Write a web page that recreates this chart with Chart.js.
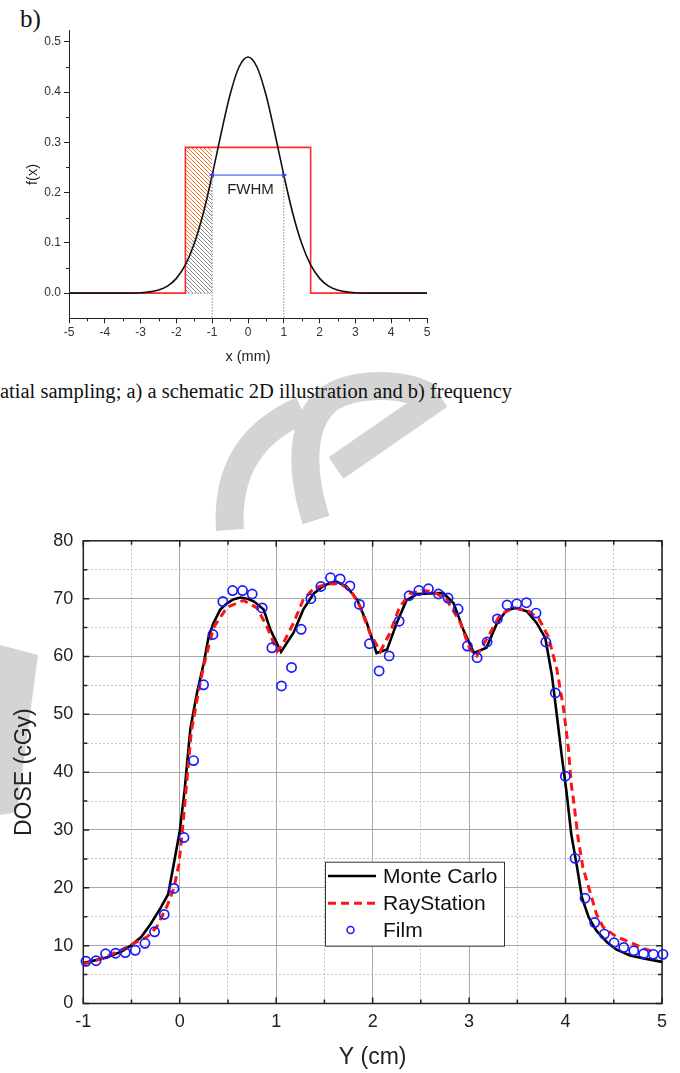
<!DOCTYPE html>
<html>
<head>
<meta charset="utf-8">
<script src="https://cdn.jsdelivr.net/npm/chart.js@4.4.1/dist/chart.umd.min.js"></script>
<style>
  html,body{margin:0;padding:0;background:#fff;}
  body{width:680px;height:1073px;position:relative;overflow:hidden;}
  .abs{position:absolute;}
</style>
</head>
<body>
<svg class="abs" style="left:0;top:0" width="680" height="1073">
  <g fill="none" stroke="#d4d4d4" stroke-width="28">
    <path d="M230 530 C 226 470 252 432 302 410"/>
    <path d="M316 520 C 300 470 300 420 330 398 C 360 380 408 384 430 398"/>
    <path d="M336 468 L 440 396" stroke-width="26"/>
  </g>
  <path d="M0 645 L 38 655 L 17 812 L 0 815 Z" fill="#d4d4d4"/>
  <text x="20" y="27" font-family="'Liberation Serif','DejaVu Serif',serif" font-size="25" fill="#111">b)</text>
  <text x="0" y="398" font-family="'Liberation Serif','DejaVu Serif',serif" font-size="20.5" fill="#111" textLength="512" lengthAdjust="spacingAndGlyphs">atial sampling; a) a schematic 2D illustration and b) frequency</text>
</svg>
<canvas id="c1" class="abs" style="left:0;top:0" width="460" height="370"></canvas>
<canvas id="c2" class="abs" style="left:0;top:520px" width="680" height="553"></canvas>
<script>
// ---------------- Chart b) data ----------------
const gaussX = [-5,-4,-3.5,-3,-2.75,-2.5,-2.25,-2,-1.75,-1.5,-1.25,-1,-0.75,-0.5,-0.25,0,0.25,0.5,0.75,1,1.25,1.5,1.75,2,2.25,2.5,2.75,3,3.5,4,5];
const gaussY = [0,0,0.0001,0.0009,0.0025,0.0062,0.0141,0.0294,0.0562,0.0987,0.159,0.2349,0.318,0.395,0.4498,0.4697,0.4498,0.395,0.318,0.2349,0.159,0.0987,0.0562,0.0294,0.0141,0.0062,0.0025,0.0009,0.0001,0,0];
const rectX = [-5,-1.75,-1.75,1.75,1.75,5];
const rectY = [0,0,0.29,0.29,0,0];
const hatchX = [-1.75,-1.5,-1.25,-1];
const hatchLow = [0.0562,0.0987,0.159,0.2349];
const hatchTop = [0.29,0.29,0.29,0.29];
const fwhmX = [-1,1];
const fwhmY = [0.2349,0.2349];
const baseX = [-1.75,-1];
const baseY = [0,0];
const xTicks1 = [-5,-4,-3,-2,-1,0,1,2,3,4,5];
const yTicks1 = [0,0.1,0.2,0.3,0.4,0.5];
const xMinor1 = [-4.5,-3.5,-2.5,-1.5,-0.5,0.5,1.5,2.5,3.5,4.5];
const yMinor1 = [0.05,0.15,0.25,0.35,0.45];

// ---------------- Dose profile data ----------------
const mcX = [-1,-0.87,-0.75,-0.6,-0.5,-0.4,-0.3,-0.2,-0.12,-0.05,0,0.05,0.11,0.18,0.25,0.3,0.35,0.42,0.49,0.56,0.63,0.7,0.77,0.87,0.94,1.05,1.18,1.28,1.39,1.49,1.56,1.63,1.73,1.84,1.94,2.04,2.15,2.25,2.35,2.46,2.6,2.73,2.84,2.94,3.05,3.18,3.29,3.39,3.48,3.6,3.7,3.79,3.86,3.91,3.96,4.01,4.06,4.12,4.17,4.24,4.32,4.43,4.53,4.67,4.81,5.0];
const mcY = [7.0,7.5,8.0,9.0,10.1,11.5,13.8,16.5,18.9,25.2,29.8,36.8,47.5,53.8,58.9,63.5,65.8,68.1,69.2,69.9,70.2,70.0,69.5,68.1,64.6,60.8,64.1,68.1,70.9,72.2,72.7,72.9,72.1,69.8,65.8,60.6,61.2,65.8,69.7,70.8,70.9,71.0,69.2,64.6,60.6,61.5,65.8,68.0,68.4,67.8,65.8,63.2,56.6,49.8,42.9,36.6,29.2,23.5,18.3,14.9,12.6,10.6,9.3,8.3,7.8,7.2];
const rsX = [-1,-0.8,-0.6,-0.5,-0.4,-0.34,-0.24,-0.13,-0.06,-0.01,0.02,0.06,0.12,0.19,0.25,0.35,0.49,0.66,0.8,0.9,1.01,1.08,1.18,1.28,1.39,1.52,1.66,1.77,1.87,1.97,2.08,2.18,2.28,2.39,2.53,2.63,2.77,2.91,3.01,3.08,3.22,3.32,3.46,3.6,3.72,3.82,3.91,3.98,4.03,4.06,4.08,4.13,4.18,4.25,4.32,4.39,4.53,4.67,4.81,4.93];
const rsY = [6.8,7.8,9.3,10.2,11.0,11.5,13.2,16.9,20.0,24.0,28.6,36.0,47.0,53.5,58.5,65.0,68.5,69.7,68.4,65.3,60.9,62.5,65.8,69.8,71.8,72.5,72.6,71.5,68.6,64.1,60.9,64.1,68.6,70.9,71.4,71.2,69.8,65.8,61.2,60.1,64.1,67.2,68.4,68.0,66.6,63.5,57.8,50.9,44.0,37.8,35.5,28.6,23.5,19.5,15.5,13.2,11.5,10.6,9.5,8.9];
const filmX = [-0.972,-0.868,-0.769,-0.665,-0.565,-0.461,-0.361,-0.261,-0.161,-0.06,0.044,0.143,0.247,0.344,0.447,0.548,0.651,0.751,0.855,0.955,1.055,1.159,1.259,1.359,1.463,1.563,1.663,1.764,1.863,1.967,2.067,2.171,2.275,2.378,2.479,2.578,2.682,2.782,2.886,2.982,3.083,3.187,3.293,3.394,3.494,3.594,3.694,3.795,3.894,3.998,4.098,4.202,4.302,4.402,4.503,4.603,4.707,4.81,4.91,5.01];
const filmY = [7.3,7.4,8.6,8.7,8.8,9.2,10.4,12.4,15.4,19.9,28.7,42.0,55.1,63.8,69.5,71.4,71.4,70.8,68.4,61.5,54.9,58.1,64.7,70.0,72.1,73.6,73.4,72.2,69.0,62.2,57.5,60.1,66.1,70.5,71.4,71.7,70.8,70.1,68.2,61.8,59.8,62.5,66.5,68.9,69.1,69.3,67.5,62.5,53.7,39.3,25.1,18.2,14.0,12.0,10.5,9.7,9.1,8.6,8.5,8.5];
const xTicks2 = [-1,0,1,2,3,4,5];
const yTicks2 = [0,10,20,30,40,50,60,70,80];
const xMinor2 = [-0.5,0.5,1.5,2.5,3.5,4.5];
const yMinor2 = [5,15,25,35,45,55,65,75];

const SANS = "'Liberation Sans', Arial, Helvetica, sans-serif";
const pts = (xs, ys) => xs.map((x, i) => ({x, y: ys[i]}));

function hatch(color) {
  const c = document.createElement('canvas');
  c.width = 4; c.height = 4;
  const g = c.getContext('2d');
  g.strokeStyle = color; g.lineWidth = 1;
  g.beginPath();
  g.moveTo(-1, -1); g.lineTo(5, 5);
  g.moveTo(-1, 3); g.lineTo(1, 5);
  g.moveTo(3, -1); g.lineTo(5, 1);
  g.stroke();
  return g.createPattern(c, 'repeat');
}

// ---------------- Chart b) ----------------
const minorTicks1 = {
  id: 'minorTicks1',
  afterDraw(chart) {
    const {ctx, scales: {x, y}} = chart;
    ctx.save();
    ctx.strokeStyle = '#222'; ctx.lineWidth = 1;
    ctx.beginPath();
    xMinor1.forEach(v => { const px = Math.round(x.getPixelForValue(v)) + 0.5; ctx.moveTo(px, y.bottom); ctx.lineTo(px, y.bottom + 3); });
    yMinor1.forEach(v => { const py = Math.round(y.getPixelForValue(v)) + 0.5; ctx.moveTo(x.left, py); ctx.lineTo(x.left - 3, py); });
    ctx.stroke();
    ctx.fillStyle = '#222';
    ctx.font = '15px ' + SANS;
    ctx.textAlign = 'center'; ctx.textBaseline = 'middle';
    ctx.fillText('FWHM', x.getPixelForValue(0.07), y.getPixelForValue(0.205));
    ctx.restore();
  }
};

new Chart(document.getElementById('c1'), {
  type: 'line',
  data: {
    datasets: [
      {label: 'below', data: pts(hatchX, hatchLow), borderWidth: 0, pointRadius: 0, fill: 'origin', backgroundColor: hatch('#8a8a8a'), order: 10},
      {label: 'above', data: pts(hatchX, hatchTop), borderWidth: 0, pointRadius: 0, fill: '-1', backgroundColor: hatch('#f07a2a'), order: 9},
      {label: 'base', data: pts(baseX, baseY), borderColor: '#888', borderWidth: 1, borderDash: [1.5, 1.5], pointRadius: 0, fill: false, order: 8},
      {label: 'uniform', data: pts(rectX, rectY), borderColor: '#ff2a2a', borderWidth: 1.6, pointRadius: 0, fill: false, order: 5},
      {label: 'gauss', data: pts(gaussX, gaussY), borderColor: '#111', borderWidth: 1.6, pointRadius: 0, fill: false, cubicInterpolationMode: 'monotone', order: 4},
      {label: 'vl', data: [{x: -1, y: 0.2349}, {x: -1, y: -0.05}], borderColor: '#8a8a8a', borderWidth: 1, borderDash: [1.5, 1.5], pointRadius: 0, fill: false, order: 3},
      {label: 'vr', data: [{x: 1, y: 0.2349}, {x: 1, y: -0.05}], borderColor: '#8a8a8a', borderWidth: 1, borderDash: [1.5, 1.5], pointRadius: 0, fill: false, order: 3},
      {label: 'fwhm', data: pts(fwhmX, fwhmY), borderColor: '#2a3cff', backgroundColor: '#2a3cff', borderWidth: 1, pointStyle: 'triangle', pointRadius: 3.2, rotation: [-90, 90], pointBorderWidth: 0, fill: false, order: 1}
    ]
  },
  options: {
    responsive: false, animation: false, devicePixelRatio: 1,
    layout: {padding: {left: 0, right: 33, top: 30.7, bottom: 0}},
    plugins: {legend: {display: false}, tooltip: {enabled: false}},
    scales: {
      x: {
        type: 'linear', min: -5, max: 5,
        afterBuildTicks: s => { s.ticks = xTicks1.map(v => ({value: v})); },
        afterFit: s => { s.height = 51.7; },
        ticks: {font: {family: SANS, size: 12}, color: '#333', padding: 2, maxRotation: 0, callback: v => String(v)},
        grid: {drawOnChartArea: false, drawTicks: true, tickLength: 5, tickColor: '#222', tickWidth: 1},
        border: {display: true, color: '#222', width: 1},
        title: {display: true, text: 'x (mm)', font: {family: SANS, size: 14.5}, color: '#222', padding: {top: 0, bottom: 4}}
      },
      y: {
        type: 'linear', min: -0.05, max: 0.522,
        afterBuildTicks: s => { s.ticks = yTicks1.map(v => ({value: v})); },
        afterFit: s => { s.width = 69; },
        ticks: {font: {family: SANS, size: 12}, color: '#333', padding: 3, callback: v => Number(v).toFixed(1)},
        grid: {drawOnChartArea: false, drawTicks: true, tickLength: 5, tickColor: '#222', tickWidth: 1},
        border: {display: true, color: '#222', width: 1},
        title: {display: true, text: 'f(x)', font: {family: SANS, size: 14.5}, color: '#222', padding: {top: 24, bottom: 0}}
      }
    }
  },
  plugins: [minorTicks1]
});

// ---------------- Dose chart ----------------
const frame2 = {
  id: 'frame2',
  beforeDraw(chart) {
    const {ctx, chartArea: a} = chart;
    ctx.save(); ctx.fillStyle = '#fff'; ctx.fillRect(a.left, a.top, a.right - a.left, a.bottom - a.top); ctx.restore();
  },
  beforeDatasetsDraw(chart) {
    const {ctx, chartArea: a, scales: {x, y}} = chart;
    ctx.save();
    ctx.strokeStyle = '#222'; ctx.lineWidth = 1.5;
    ctx.beginPath();
    const tk = (list, len) => {
      list.forEach(v => {
        const px = x.getPixelForValue(v);
        ctx.moveTo(px, a.bottom); ctx.lineTo(px, a.bottom - len);
        ctx.moveTo(px, a.top); ctx.lineTo(px, a.top + len);
      });
    };
    const tky = (list, len) => {
      list.forEach(v => {
        const py = y.getPixelForValue(v);
        ctx.moveTo(a.left, py); ctx.lineTo(a.left + len, py);
        ctx.moveTo(a.right, py); ctx.lineTo(a.right - len, py);
      });
    };
    tk(xTicks2, 6); tk(xMinor2, 4); tky(yTicks2, 6); tky(yMinor2, 4);
    ctx.stroke();
    ctx.strokeRect(a.left, a.top, a.right - a.left, a.bottom - a.top);
    ctx.restore();
  },
  afterDraw(chart) {
    const {ctx} = chart;
    const L = {x: 325, y: 341.7, w: 179, h: 84};
    ctx.save();
    ctx.fillStyle = '#fff'; ctx.fillRect(L.x, L.y, L.w, L.h);
    ctx.strokeStyle = '#333'; ctx.lineWidth = 1; ctx.strokeRect(L.x + 0.5, L.y + 0.5, L.w, L.h);
    ctx.font = '21px ' + SANS; ctx.fillStyle = '#111'; ctx.textBaseline = 'middle'; ctx.textAlign = 'left';
    const rows = [356, 383.3, 410];
    chart.data.datasets.forEach((ds, i) => {
      const ry = rows[i];
      if (ds.showLine === false) {
        ctx.strokeStyle = ds.borderColor; ctx.lineWidth = 1.5;
        ctx.beginPath(); ctx.arc(350.5, ry, 3.5, 0, Math.PI * 2); ctx.stroke();
      } else {
        ctx.strokeStyle = ds.borderColor; ctx.lineWidth = ds.borderWidth;
        ctx.setLineDash(ds.borderDash || []);
        ctx.beginPath(); ctx.moveTo(328, ry); ctx.lineTo(376, ry); ctx.stroke();
        ctx.setLineDash([]);
      }
      ctx.fillText(ds.label, 383, ry + 1);
    });
    ctx.restore();
  }
};

new Chart(document.getElementById('c2'), {
  type: 'line',
  data: {
    datasets: [
      {label: 'Monte Carlo', data: pts(mcX, mcY), borderColor: '#000', borderWidth: 2.6, pointRadius: 0, fill: false, tension: 0, order: 3},
      {label: 'RayStation', data: pts(rsX, rsY), borderColor: '#ff1414', borderWidth: 3, borderDash: [8, 5], pointRadius: 0, fill: false, tension: 0, order: 2},
      {label: 'Film', data: pts(filmX, filmY), showLine: false, borderColor: '#1a1aff', backgroundColor: 'rgba(0,0,0,0)', pointRadius: 4.6, pointBorderWidth: 1.7, pointStyle: 'circle', clip: false, order: 1}
    ]
  },
  options: {
    responsive: false, animation: false, devicePixelRatio: 1,
    layout: {padding: {left: 0, right: 18, top: 17.3, bottom: 0}},
    plugins: {legend: {display: false}, tooltip: {enabled: false}},
    scales: {
      x: {
        type: 'linear', min: -1, max: 5,
        afterBuildTicks: s => { s.ticks = xTicks2.map(v => ({value: v})); },
        afterFit: s => { s.height = 69.5; },
        ticks: {font: {family: SANS, size: 18}, color: '#222', padding: 8, maxRotation: 0, callback: v => String(v)},
        grid: {color: '#a8a8a8', lineWidth: 1, drawTicks: false},
        border: {display: false},
        title: {display: true, text: 'Y (cm)', font: {family: SANS, size: 23}, color: '#222', padding: {top: 0, bottom: 2}}
      },
      x2: {
        type: 'linear', min: -1, max: 5, position: 'bottom',
        afterBuildTicks: s => { s.ticks = xMinor2.map(v => ({value: v})); },
        afterFit: s => { s.height = 0; },
        ticks: {display: false},
        grid: {color: '#c4c4c4', lineWidth: 1, drawTicks: false},
        border: {display: false, dash: [2, 2]}
      },
      y: {
        type: 'linear', min: 0, max: 80,
        afterBuildTicks: s => { s.ticks = yTicks2.map(v => ({value: v})); },
        afterFit: s => { s.width = 83.3; },
        ticks: {font: {family: SANS, size: 18}, color: '#222', padding: 10, callback: v => String(v)},
        grid: {color: '#a8a8a8', lineWidth: 1, drawTicks: false},
        border: {display: false},
        title: {display: true, text: 'DOSE (cGy)', font: {family: SANS, size: 23}, color: '#222', padding: {top: 11, bottom: 0}}
      },
      y2: {
        type: 'linear', min: 0, max: 80, position: 'left',
        afterBuildTicks: s => { s.ticks = yMinor2.map(v => ({value: v})); },
        afterFit: s => { s.width = 0; },
        ticks: {display: false},
        grid: {color: '#c4c4c4', lineWidth: 1, drawTicks: false},
        border: {display: false, dash: [2, 2]}
      }
    }
  },
  plugins: [frame2]
});
</script>
</body>
</html>
